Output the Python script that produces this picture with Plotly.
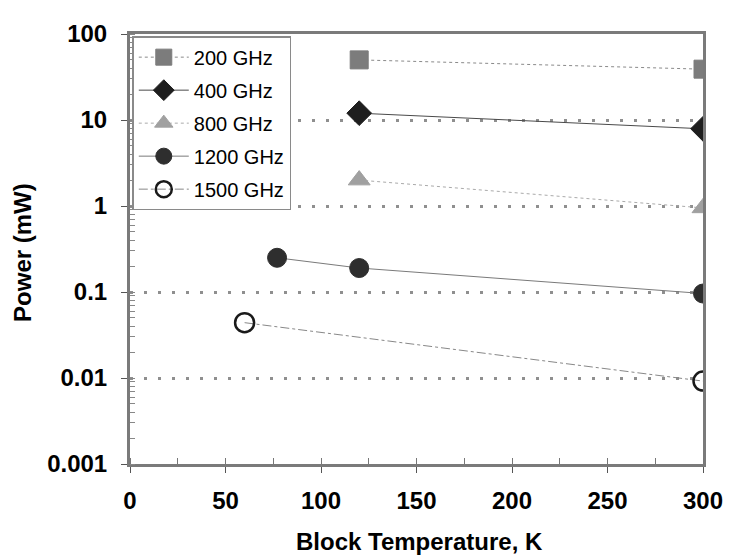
import plotly.graph_objects as go

series_names = ["200 GHz", "400 GHz", "800 GHz", "1200 GHz", "1500 GHz"]
temp_200 = [120, 300]
power_200 = [50, 39]
temp_400 = [120, 300]
power_400 = [12, 7.9]
temp_800 = [120, 300]
power_800 = [2.0, 0.95]
temp_1200 = [77, 120, 300]
power_1200 = [0.25, 0.19, 0.096]
temp_1500 = [60, 300]
power_1500 = [0.044, 0.0092]

x_ticks = [0, 50, 100, 150, 200, 250, 300]
y_ticks = [0.001, 0.01, 0.1, 1, 10, 100]
y_tick_labels = ["0.001", "0.01", "0.1", "1", "10", "100"]
x_title = "Block Temperature, K"
y_title = "Power (mW)"

styles = [
    dict(symbol="square", color="#7c7c7c", line=dict(color="#8a8a8a", width=1, dash="dot"), size=18, lc="#7c7c7c"),
    dict(symbol="diamond", color="#1e1e1e", line=dict(color="#4a4a4a", width=1, dash="solid"), size=19, lc="#1e1e1e"),
    dict(symbol="triangle-up", color="#a0a0a0", line=dict(color="#aaaaaa", width=1, dash="dot"), size=19, lc="#a0a0a0"),
    dict(symbol="circle", color="#2e2e2e", line=dict(color="#7a7a7a", width=1, dash="solid"), size=19, lc="#2e2e2e"),
    dict(symbol="circle-open", color="#1a1a1a", line=dict(color="#888888", width=1, dash="dashdot"), size=19, lc="#1a1a1a"),
]
data = [
    (temp_200, power_200),
    (temp_400, power_400),
    (temp_800, power_800),
    (temp_1200, power_1200),
    (temp_1500, power_1500),
]

fig = go.Figure()
for i, (name, (xs, ys), st) in enumerate(zip(series_names, data, styles)):
    marker = dict(symbol=st["symbol"], size=st["size"], color=st["color"],
                  line=dict(color=st["lc"], width=2.5 if st["symbol"] == "circle-open" else 1))
    fig.add_trace(go.Scatter(
        x=xs, y=ys, name=name, mode="lines+markers",
        line=st["line"], marker=marker, legendgroup=name,
    ))

font_family = "Liberation Sans, Arial, sans-serif"
axis_line = "#7a7a7a"
title_font = dict(size=24, family=font_family, weight="bold", color="black")

# the page body has an 8px margin, so the figure is sized/placed to compensate
fig.update_layout(
    width=727, height=548,
    margin=dict(l=122, r=24, t=15, b=92),
    paper_bgcolor="white", plot_bgcolor="white",
    font=dict(family=font_family, color="black"),
    showlegend=True,
    legend=dict(
        x=0.004, y=0.995, xanchor="left", yanchor="top",
        bgcolor="white", bordercolor="#8a8a8a", borderwidth=1.5,
        font=dict(size=20, family=font_family, color="black"),
        traceorder="grouped", tracegroupgap=4,
        itemsizing="trace", itemwidth=50,
    ),
    xaxis=dict(
        range=[0, 300], tickvals=x_ticks, ticktext=[str(v) for v in x_ticks],
        ticks="outside", ticklen=6, tickcolor="#555555", tickwidth=1,
        minor=dict(dtick=25, ticks="inside", ticklen=6, tickcolor="#777777", showgrid=False),
        showline=True, mirror=True, linecolor=axis_line, linewidth=3,
        showgrid=False, zeroline=False,
        tickfont=dict(size=24, family=font_family, weight="bold"),
        ticklabelstandoff=7,
    ),
    yaxis=dict(
        type="log", range=[-3, 2], tickvals=y_ticks, ticktext=y_tick_labels,
        ticks="outside", ticklen=6, tickcolor="#555555", tickwidth=1,
        minor=dict(dtick="D1", ticks="inside", ticklen=5, tickcolor="#888888", showgrid=False),
        showline=True, mirror=True, linecolor=axis_line, linewidth=3,
        showgrid=True, gridcolor="#8f8f8f", gridwidth=2.5, griddash="3px,11px",
        zeroline=False,
        tickfont=dict(size=24, family=font_family, weight="bold"),
        ticklabelstandoff=9,
    ),
    annotations=[
        dict(text=x_title, xref="paper", yref="paper", x=0.505, y=-0.180,
             xanchor="center", yanchor="middle", showarrow=False, font=title_font),
        dict(text=y_title, xref="paper", yref="paper", x=-0.1876, y=0.492,
             xanchor="center", yanchor="middle", textangle=-90, showarrow=False, font=title_font),
    ],
)

fig.write_html("out.html")
